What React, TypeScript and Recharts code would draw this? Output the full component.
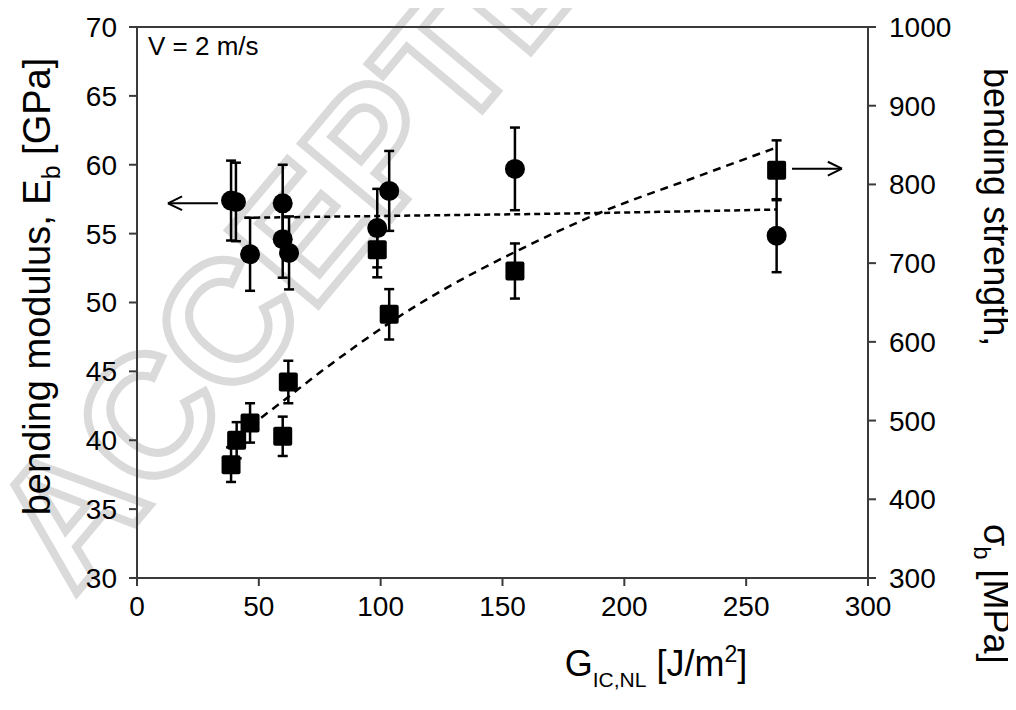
import React from 'react';
import {
  ComposedChart, XAxis, YAxis, Scatter, Line, ErrorBar, ReferenceLine, Customized,
} from 'recharts';

// G_IC,NL [J/m2] vs bending modulus E_b [GPa] (left axis)
const modulusG = [38.6, 40.6, 46.4, 59.8, 59.8, 62.4, 98.6, 103.5, 155.1, 262.5];
const modulusE = [57.4, 57.3, 53.5, 57.2, 54.6, 53.6, 55.4, 58.1, 59.7, 54.85];
const modulusErr = [2.9, 2.85, 2.65, 2.8, 2.8, 2.65, 2.85, 2.9, 3.0, 2.65];

// G_IC,NL vs bending strength sigma_b [MPa] (right axis)
const strengthG = [38.6, 40.9, 46.4, 59.8, 62.1, 98.6, 103.5, 155.1, 262.5];
const strengthS = [444, 475, 497, 480, 549, 717, 635, 690, 818];
const strengthErr = [22, 23, 25, 25, 27, 35, 32, 35, 38];

// trend lines
const modulusTrendG = [44, 87, 190, 262.5];
const modulusTrendE = [56.15, 56.25, 56.5, 56.75];
const strengthTrendG = [46.4, 60, 75, 90, 105, 125, 155, 190, 230, 262.5];
const strengthTrendS = [493, 525, 561, 595, 627, 665, 714, 764, 810, 847];

const xTicks = [0, 50, 100, 150, 200, 250, 300];
const leftTicks = [30, 35, 40, 45, 50, 55, 60, 65, 70];
const rightTicks = [300, 400, 500, 600, 700, 800, 900, 1000];

const modulusData = modulusG.map((x, i) => ({ x, y: modulusE[i], err: modulusErr[i] }));
const strengthData = strengthG.map((x, i) => ({ x, y: strengthS[i], err: strengthErr[i] }));
const modulusTrend = modulusTrendG.map((x, i) => ({ x, y: modulusTrendE[i] }));
const strengthTrend = strengthTrendG.map((x, i) => ({ x, y: strengthTrendS[i] }));

// arrow annotations (data coordinates)
const leftArrow = { x0: 33.2, x1: 12.7, y: 57.2, hx: 18.5, hy: 0.5 };
const rightArrow = { x0: 268.8, x1: 289.3, y: 820, hx: 283.5, hy: 8.8 };

const FONT = '"Liberation Sans", Arial, Helvetica, sans-serif';
const AXIS = '#3a3a3a';
const TICK = { fontSize: 28, fill: '#000', fontFamily: FONT };
const W = 1008;
const H = 702;

const CircleShape = (p: any) => <circle cx={p.cx} cy={p.cy} r={10} fill="#000" />;
const SquareShape = (p: any) => (
  <rect x={p.cx - 9.5} y={p.cy - 9.5} width={19} height={19} rx={2} fill="#000" />
);

const Titles = () => (
  <g fontFamily={FONT} fill="#000">
    <text x={140} y={47} fontSize={26}>V = 2 m/s</text>
    <text transform="translate(42,278.5) rotate(-90)" textAnchor="middle" fontSize={38}>
      bending modulus, E<tspan dy={10} fontSize={25}>b</tspan>
      <tspan dy={-10}> [GPa]</tspan>
    </text>
    <text transform="translate(976,60) rotate(90)" fontSize={36}>bending strength,</text>
    <text transform="translate(976,516) rotate(90)" fontSize={36}>
      σ<tspan dy={10} fontSize={24}>b</tspan>
      <tspan dy={-10}> [MPa]</tspan>
    </text>
    <text x={648} y={668} textAnchor="middle" fontSize={36}>
      G<tspan dy={11} fontSize={21}>IC,NL</tspan>
      <tspan dy={-11}> [J/m</tspan>
      <tspan dy={-14} fontSize={23}>2</tspan>
      <tspan dy={14}>]</tspan>
    </text>
  </g>
);

export default function App() {
  return (
    <div style={{ position: 'relative', width: W, height: H }}>
      <svg
        width={W}
        height={H}
        style={{ position: 'absolute', left: 0, top: 0 }}
      >
        <text
          transform="translate(66,588) rotate(-50)"
          fontSize={170}
          fontFamily={FONT}
          fontWeight="bold"
          fill="none"
          stroke="#dadada"
          strokeWidth={8}
        >
          ACCEPTED
        </text>
      </svg>
      <div style={{ position: 'relative' }}>
        <ComposedChart
          width={W}
          height={H}
          margin={{ top: 19, right: 0, bottom: 0, left: 0 }}
        >
          <XAxis
            type="number"
            dataKey="x"
            domain={[0, 300]}
            ticks={xTicks}
            allowDataOverflow
            height={132}
            stroke={AXIS}
            strokeWidth={2}
            tickSize={8}
            tickMargin={10}
            tick={TICK}
          />
          <YAxis
            yAxisId="left"
            type="number"
            domain={[30, 70]}
            ticks={leftTicks}
            allowDataOverflow
            width={129}
            stroke={AXIS}
            strokeWidth={2}
            tickSize={8}
            tickMargin={12}
            tick={TICK}
          />
          <YAxis
            yAxisId="right"
            orientation="right"
            type="number"
            domain={[300, 1000]}
            ticks={rightTicks}
            allowDataOverflow
            width={148}
            stroke={AXIS}
            strokeWidth={2}
            tickSize={8}
            tickMargin={13}
            tick={TICK}
          />
          <ReferenceLine yAxisId="left" y={70} stroke={AXIS} strokeWidth={2} />

          <Line
            yAxisId="left"
            data={modulusTrend}
            dataKey="y"
            type="monotone"
            stroke="#000"
            strokeWidth={2.5}
            strokeDasharray="6 4"
            dot={false}
            activeDot={false}
            isAnimationActive={false}
          />
          <Line
            yAxisId="right"
            data={strengthTrend}
            dataKey="y"
            type="monotone"
            stroke="#000"
            strokeWidth={2.5}
            strokeDasharray="8 6"
            dot={false}
            activeDot={false}
            isAnimationActive={false}
          />

          <Scatter
            yAxisId="left"
            data={modulusData}
            dataKey="y"
            shape={CircleShape}
            isAnimationActive={false}
          >
            <ErrorBar dataKey="err" direction="y" width={5} stroke="#000" strokeWidth={2.5} />
          </Scatter>
          <Scatter
            yAxisId="right"
            data={strengthData}
            dataKey="y"
            shape={SquareShape}
            isAnimationActive={false}
          >
            <ErrorBar dataKey="err" direction="y" width={5} stroke="#000" strokeWidth={2.5} />
          </Scatter>

          {/* arrows */}
          <ReferenceLine yAxisId="left" segment={[{ x: leftArrow.x0, y: leftArrow.y }, { x: leftArrow.x1, y: leftArrow.y }]} stroke="#000" strokeWidth={2} />
          <ReferenceLine yAxisId="left" segment={[{ x: leftArrow.x1, y: leftArrow.y }, { x: leftArrow.hx, y: leftArrow.y + leftArrow.hy }]} stroke="#000" strokeWidth={2} />
          <ReferenceLine yAxisId="left" segment={[{ x: leftArrow.x1, y: leftArrow.y }, { x: leftArrow.hx, y: leftArrow.y - leftArrow.hy }]} stroke="#000" strokeWidth={2} />
          <ReferenceLine yAxisId="right" segment={[{ x: rightArrow.x0, y: rightArrow.y }, { x: rightArrow.x1, y: rightArrow.y }]} stroke="#000" strokeWidth={2} />
          <ReferenceLine yAxisId="right" segment={[{ x: rightArrow.x1, y: rightArrow.y }, { x: rightArrow.hx, y: rightArrow.y + rightArrow.hy }]} stroke="#000" strokeWidth={2} />
          <ReferenceLine yAxisId="right" segment={[{ x: rightArrow.x1, y: rightArrow.y }, { x: rightArrow.hx, y: rightArrow.y - rightArrow.hy }]} stroke="#000" strokeWidth={2} />

          <Customized component={Titles} />
        </ComposedChart>
      </div>
    </div>
  );
}
